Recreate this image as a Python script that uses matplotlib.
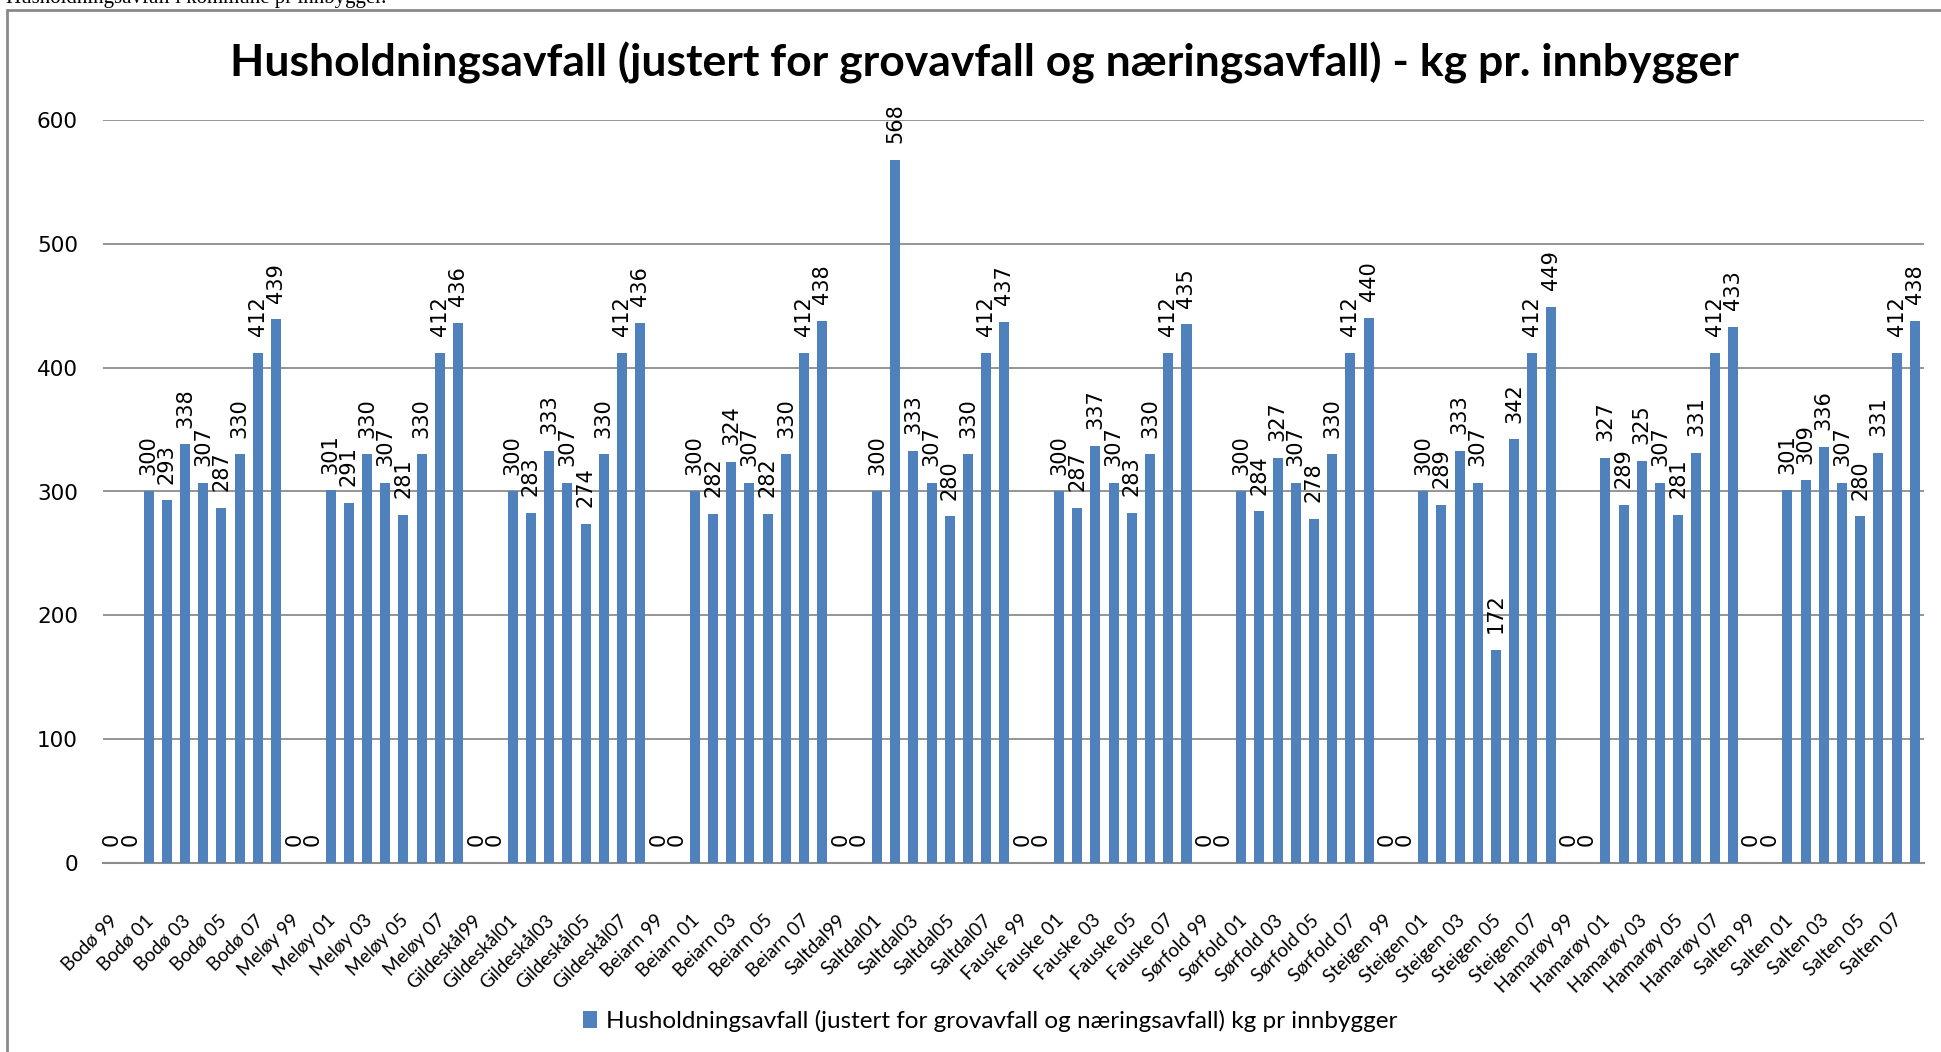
import numpy as np
import matplotlib
matplotlib.use("Agg")
import matplotlib.pyplot as plt
import matplotlib.transforms as mtransforms
from matplotlib.patches import Rectangle

# ---- data -------------------------------------------------------------------
kommuner = ["Bodø ", "Meløy ", "Gildeskål", "Beiarn ", "Saltdal",
            "Fauske ", "Sørfold ", "Steigen ", "Hamarøy ", "Salten "]
years = ["99", "00", "01", "02", "03", "04", "05", "06", "07", "08"]

bodo = [0, 0, 300, 293, 338, 307, 287, 330, 412, 439]
meloy = [0, 0, 301, 291, 330, 307, 281, 330, 412, 436]
gildeskal = [0, 0, 300, 283, 333, 307, 274, 330, 412, 436]
beiarn = [0, 0, 300, 282, 324, 307, 282, 330, 412, 438]
saltdal = [0, 0, 300, 568, 333, 307, 280, 330, 412, 437]
fauske = [0, 0, 300, 287, 337, 307, 283, 330, 412, 435]
sorfold = [0, 0, 300, 284, 327, 307, 278, 330, 412, 440]
steigen = [0, 0, 300, 289, 333, 307, 172, 342, 412, 449]
hamaroy = [0, 0, 327, 289, 325, 307, 281, 331, 412, 433]
salten = [0, 0, 301, 309, 336, 307, 280, 331, 412, 438]

values = bodo + meloy + gildeskal + beiarn + saltdal + fauske + sorfold + steigen + hamaroy + salten
categories = [k + y for k in kommuner for y in years]

title = "Husholdningsavfall (justert for grovavfall og næringsavfall) - kg pr. innbygger"
legend_label = "Husholdningsavfall (justert for grovavfall og næringsavfall) kg pr innbygger"
header = "Husholdningsavfall i kommune pr innbygger."

BLUE = "#4F81BD"
GRID = "#8C8C8C"

# ---- figure -----------------------------------------------------------------
W, H = 1941, 1052
fig = plt.figure(figsize=(W / 100, H / 100), dpi=100)
ax = fig.add_axes([103 / W, 1 - 863 / H, (1924 - 103) / W, (863 - 120) / H])

x = np.arange(len(values))
bars = ax.bar(x, values, width=0.55, color=BLUE, zorder=3, label=legend_label)

for xi, v in zip(x, values):
    ax.annotate(f"{v}", (xi, v), xytext=(0, 12), textcoords="offset points",
                rotation=90, ha="center", va="bottom", fontsize=15,
                family="DejaVu Sans", color="black")

ax.set_xlim(-0.5, len(values) - 0.5)
ax.set_ylim(0, 600)
ax.set_yticks(range(0, 601, 100))
ax.yaxis.grid(True, color=GRID, lw=1.3, zorder=0)
ax.tick_params(axis="y", length=0, pad=18, labelsize=15.5)
for s in ("left", "top", "right"):
    ax.spines[s].set_visible(False)
ax.spines["bottom"].set_color(GRID)
ax.spines["bottom"].set_linewidth(1.5)

ax.set_xticks(x[::2])
ax.set_xticklabels(categories[::2], rotation=45, ha="right", va="top",
                   family="Lato", fontsize=13.5)
ax.tick_params(axis="x", length=0, pad=35)
shift = mtransforms.ScaledTranslation(6 / 72, 0, fig.dpi_scale_trans)
for lab in ax.get_xticklabels():
    lab.set_transform(lab.get_transform() + shift)

fig.text(984 / W, 1 - 63 / H, title, ha="center", va="center",
         fontsize=32, fontweight="bold", family="Lato")

fig.legend(handles=[bars], labels=[legend_label], loc="center",
           bbox_to_anchor=(990 / W, 1 - 1021 / H), frameon=False,
           prop={"family": "Lato", "size": 17.5}, handlelength=0.6,
           handleheight=0.7, handletextpad=0.35)

# outer chart frame (cropped on right and bottom) and header text above it
fig.patches.append(Rectangle((7 / W, -0.1), 2.0, 1.1 - 10 / H,
                             transform=fig.transFigure, fill=False,
                             edgecolor="#8A8A8A", lw=2))
fig.text(6 / W, 1 - 3 / H, header, ha="left", va="baseline",
         fontsize=15, family="Liberation Serif")

fig.savefig("out.png", dpi=100)
